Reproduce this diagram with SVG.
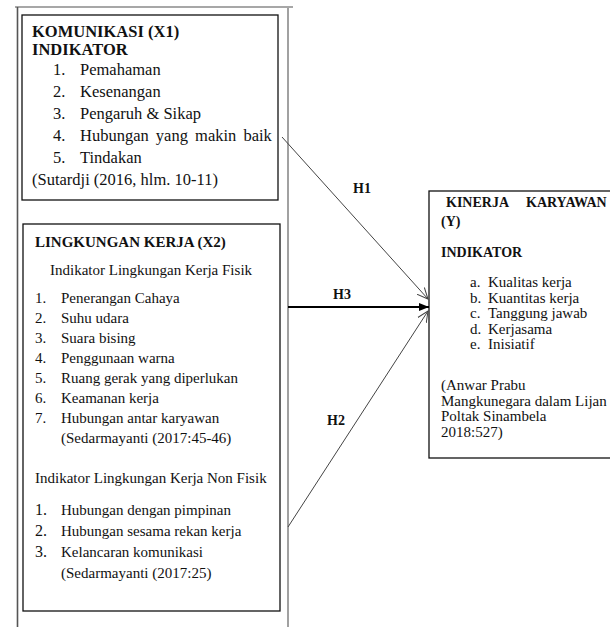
<svg xmlns="http://www.w3.org/2000/svg" width="610" height="627" viewBox="0 0 610 627">
<defs>
<style>
text{font-family:'Liberation Serif','Times New Roman','DejaVu Serif',serif;fill:#111}
.b{font-weight:bold}
.s1{font-size:16.5px}
.s2{font-size:15px}
.s3{font-size:14px}
.box{fill:#fff;stroke:#111;stroke-width:1.3}
.frame{fill:none;stroke:#8a8a8a;stroke-width:1.6}
.thin{fill:none;stroke:#444;stroke-width:1}
.thick{fill:none;stroke:#000;stroke-width:2}
</style>
<marker id="open" viewBox="0 0 12 12" refX="11" refY="6" markerWidth="12" markerHeight="12" markerUnits="userSpaceOnUse" orient="auto">
<path d="M0,1 L11,6 L0,11" fill="none" stroke="#444" stroke-width="1"/>
</marker>
<marker id="fill" viewBox="0 0 10 10" refX="10" refY="5" markerWidth="10" markerHeight="10" markerUnits="userSpaceOnUse" orient="auto">
<path d="M0,1 L10,5 L0,9 Z" fill="#000"/>
</marker>
</defs>
<rect width="610" height="627" fill="#fff"/>
<g id="frame">
<line x1="15" y1="7" x2="293" y2="7" class="frame"/>
<line x1="17.5" y1="7" x2="17.5" y2="627" stroke="#555" stroke-width="1.6"/>
<line x1="288" y1="8" x2="288" y2="627" class="frame" stroke-width="2"/>
</g>
<g font-family="Liberation Serif, Times New Roman, serif">
<g id="komunikasi">
<rect x="22" y="15" width="256" height="185" class="box"/>
<text class="b s1" x="32" y="37">KOMUNIKASI (X1)</text>
<text class="b s1" x="32" y="54.5">INDIKATOR</text>
<g class="s1">
<text x="53" y="75">1.</text><text x="80" y="75">Pemahaman</text>
<text x="53" y="97">2.</text><text x="80" y="97">Kesenangan</text>
<text x="53" y="119">3.</text><text x="80" y="119">Pengaruh &amp; Sikap</text>
<text x="53" y="141">4.</text><text x="80" y="141" word-spacing="3">Hubungan yang makin baik</text>
<text x="53" y="163">5.</text><text x="80" y="163">Tindakan</text>
<text x="32" y="185">(Sutardji (2016, hlm. 10-11)</text>
</g>
</g>
<g id="lingkungan">
<rect x="23" y="224" width="257" height="387" class="box"/>
<text class="b s2" x="35" y="247">LINGKUNGAN KERJA (X2)</text>
<g class="s2">
<text x="50" y="275">Indikator Lingkungan Kerja Fisik</text>
<text x="35" y="303">1.</text><text x="61" y="303">Penerangan Cahaya</text>
<text x="35" y="323">2.</text><text x="61" y="323">Suhu udara</text>
<text x="35" y="343">3.</text><text x="61" y="343">Suara bising</text>
<text x="35" y="363">4.</text><text x="61" y="363">Penggunaan warna</text>
<text x="35" y="383">5.</text><text x="61" y="383">Ruang gerak yang diperlukan</text>
<text x="35" y="403">6.</text><text x="61" y="403">Keamanan kerja</text>
<text x="35" y="423">7.</text><text x="61" y="423">Hubungan antar karyawan</text>
<text x="61" y="443">(Sedarmayanti (2017:45-46)</text>
<text x="35" y="483">Indikator Lingkungan Kerja Non Fisik</text>
<text x="35" y="515" font-size="16">1.</text><text x="61" y="515">Hubungan dengan pimpinan</text>
<text x="35" y="536" font-size="16">2.</text><text x="61" y="536">Hubungan sesama rekan kerja</text>
<text x="35" y="557" font-size="16">3.</text><text x="61" y="557">Kelancaran komunikasi</text>
<text x="61" y="578">(Sedarmayanti (2017:25)</text>
</g>
</g>
<g id="kinerja">
<rect x="429" y="191" width="200" height="267" class="box"/>
<text class="b s3" x="446" y="207">KINERJA</text>
<text class="b s3" x="526" y="207">KARYAWAN</text>
<text class="b s3" x="441" y="226">(Y)</text>
<text class="b s3" x="441" y="257">INDIKATOR</text>
<g class="s2">
<text x="470" y="287">a.</text><text x="488" y="287">Kualitas kerja</text>
<text x="470" y="302.5">b.</text><text x="488" y="302.5">Kuantitas kerja</text>
<text x="470" y="318">c.</text><text x="488" y="318">Tanggung jawab</text>
<text x="470" y="333.5">d.</text><text x="488" y="333.5">Kerjasama</text>
<text x="470" y="349">e.</text><text x="488" y="349">Inisiatif</text>
<text x="441" y="390">(Anwar Prabu</text>
<text x="441" y="405.5">Mangkunegara dalam Lijan</text>
<text x="441" y="421">Poltak Sinambela</text>
<text x="441" y="436.5">2018:527)</text>
</g>
</g>
<g id="connectors">
<line x1="282" y1="137" x2="428" y2="299" class="thin" marker-end="url(#open)"/>
<line x1="288" y1="307" x2="429" y2="307" class="thick" marker-end="url(#fill)"/>
<line x1="288" y1="527" x2="428" y2="311" class="thin" marker-end="url(#open)"/>
<text class="b s3" x="353" y="193">H1</text>
<text class="b s3" x="333" y="299">H3</text>
<text class="b s3" x="327" y="425">H2</text>
</g>
</g>
</svg>
